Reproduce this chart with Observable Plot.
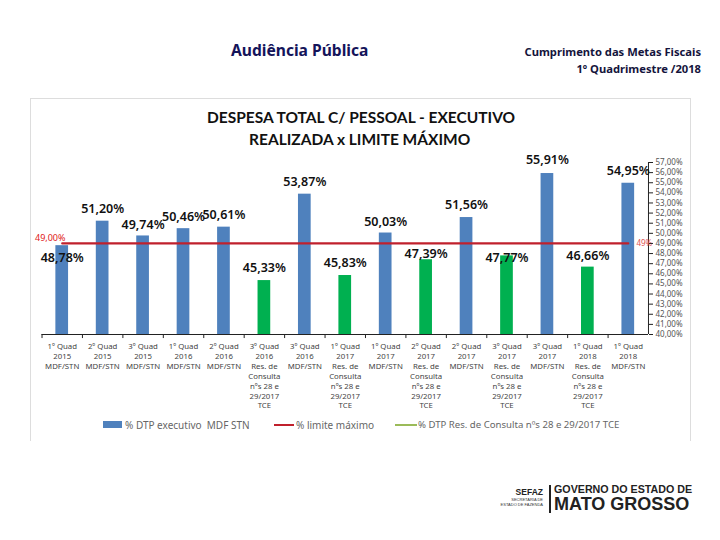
<!DOCTYPE html>
<html><head><meta charset="utf-8">
<script src="https://cdn.jsdelivr.net/npm/d3@7"></script>
<script src="https://cdn.jsdelivr.net/npm/@observablehq/plot@0.6"></script>
<style>
html,body{margin:0;padding:0;background:#fff;width:720px;height:540px;overflow:hidden;}
#wrap{position:relative;width:720px;height:540px;font-family:"Noto Sans",sans-serif;}
.abs{position:absolute;white-space:nowrap;}
#chart{position:absolute;left:0;top:0;}
</style></head><body>
<div id="wrap">
<div class="abs" style="left:30px;top:98px;width:659px;height:342px;border-left:1.5px solid #ddd;border-top:1.5px solid #ddd;border-right:1.5px solid #ddd;"></div>
<div id="chart"></div>
<div class="abs" style="left:231px;top:39px;font-size:15.6px;font-weight:700;color:#14145a;">Audiência Pública</div>
<div class="abs" style="right:19px;top:43px;font-size:11.2px;font-weight:700;line-height:17px;text-align:right;color:#14143c;">Cumprimento das Metas Fiscais<br>1º Quadrimestre /2018</div>
<div class="abs" style="left:207px;top:106px;font:bold 15.5px/22px Lato,sans-serif;color:#111;">DESPESA TOTAL C/ PESSOAL - EXECUTIVO</div>
<div class="abs" style="left:249px;top:128px;font:bold 15.5px/22px Lato,sans-serif;color:#111;">REALIZADA x LIMITE MÁXIMO</div>
<div class="abs" style="left:103px;top:421px;width:19px;height:7px;background:#4f81bd;"></div>
<div class="abs" style="left:125px;top:418px;font-size:10px;color:#666;">% DTP executivo&nbsp; MDF STN</div>
<div class="abs" style="left:274px;top:424px;width:20px;height:2px;background:#c0202c;"></div>
<div class="abs" style="left:296px;top:418px;font-size:10px;color:#666;">% limite máximo</div>
<div class="abs" style="left:395px;top:424px;width:22px;height:2px;background:#9bbb59;"></div>
<div class="abs" style="left:418px;top:418px;font-size:9.6px;color:#666;">% DTP Res. de Consulta nºs 28 e 29/2017 TCE</div>
<div class="abs" style="right:177px;top:488px;font:bold 8.5px/9px 'Liberation Sans',sans-serif;color:#222;">SEFAZ</div>
<div class="abs" style="right:177px;top:498px;font:4px/4.5px 'Liberation Sans',sans-serif;color:#333;text-align:right;">SECRETARIA DE<br>ESTADO DE FAZENDA</div>
<div class="abs" style="left:549px;top:485px;width:1.5px;height:28px;background:#222;"></div>
<div class="abs" style="left:554px;top:483px;font:bold 10.7px/12px 'Liberation Sans',sans-serif;color:#222;">GOVERNO DO ESTADO DE</div>
<div class="abs" style="left:554px;top:495px;font:bold 18px/18px 'Liberation Sans',sans-serif;color:#222;">MATO GROSSO</div>
</div>
<script>
const categories = [
 "1º Quad\n2015\nMDF/STN","2º Quad\n2015\nMDF/STN","3º Quad\n2015\nMDF/STN",
 "1º Quad\n2016\nMDF/STN","2º Quad\n2016\nMDF/STN",
 "3º Quad\n2016\nRes. de\nConsulta\nnºs 28 e\n29/2017\nTCE","3º Quad\n2016\nMDF/STN",
 "1º Quad\n2017\nRes. de\nConsulta\nnºs 28 e\n29/2017\nTCE","1º Quad\n2017\nMDF/STN",
 "2º Quad\n2017\nRes. de\nConsulta\nnºs 28 e\n29/2017\nTCE","2º Quad\n2017\nMDF/STN",
 "3º Quad\n2017\nRes. de\nConsulta\nnºs 28 e\n29/2017\nTCE","3º Quad\n2017\nMDF/STN",
 "1º Quad\n2018\nRes. de\nConsulta\nnºs 28 e\n29/2017\nTCE","1º Quad\n2018\nMDF/STN"];
const values = [48.78,51.20,49.74,50.46,50.61,45.33,53.87,45.83,50.03,47.39,51.56,47.77,55.91,46.66,54.95];
const series = ["stn","stn","stn","stn","stn","res","stn","res","stn","res","stn","res","stn","res","stn"];
const labelLift = [-1.2,1.25,1.1,1.2,1.2,1.2,1.2,1.2,1.1,0.6,1.2,-0.2,1.3,1.1,1.2];
const limit = 49;
const yTicks = d3.range(40,58);
const rows = categories.map((c,i)=>({c,v:values[i],s:series[i],lift:labelLift[i]}));
const pct = v => v.toFixed(2).replace(".",",")+"%";
const axisColor="#222";
const chart = Plot.plot({
  width:720,height:540,marginTop:162,marginBottom:206,marginLeft:41.5,marginRight:72,
  style:{background:"transparent",fontFamily:"'Noto Sans',sans-serif",overflow:"visible"},
  x:{domain:categories,paddingInner:0.686,paddingOuter:0.343,round:false,label:null},
  y:{domain:[40,57],label:null},
  color:{domain:["stn","res"],range:["#4f81bd","#00b050"]},
  marks:[
    Plot.barY(rows,{x:"c",y1:40,y2:"v",fill:"s"}),
    Plot.line(categories,{x:d=>d,y:()=>limit,stroke:"#c0202c",strokeWidth:2.2}),
    Plot.ruleY([40],{stroke:axisColor,strokeWidth:1}),
    Plot.ruleX(categories,{x:d=>d,y1:40,y2:39.6,dx:-20.2,stroke:axisColor}),
    Plot.ruleX([categories[14]],{x:d=>d,y1:40,y2:57,dx:20.2,stroke:axisColor}),
    Plot.text(rows,{x:"c",y:d=>d.v+d.lift,text:d=>pct(d.v),fontSize:12.5,fontWeight:600,fill:"#111"}),
    Plot.text([categories[0]],{x:d=>d,y:limit,text:()=>pct(limit),dx:-12,dy:-5.5,fontSize:9,fill:"#e02020"}),
    Plot.text([categories[14]],{x:d=>d,y:limit,text:()=>limit+"%",dx:16,fontSize:8,fill:"#e05050"}),
    Plot.axisY({anchor:"right",ticks:yTicks,tickFormat:pct,tickSize:4,tickPadding:3,fontSize:8,color:"#555",label:null,stroke:axisColor}),
    Plot.axisX({anchor:"bottom",tickSize:0,tickPadding:7,fontSize:7.8,lineHeight:1.28,fill:"#444",label:null,textOverflow:null})
  ]
});
document.getElementById("chart").appendChild(chart);
</script>
</body></html>
